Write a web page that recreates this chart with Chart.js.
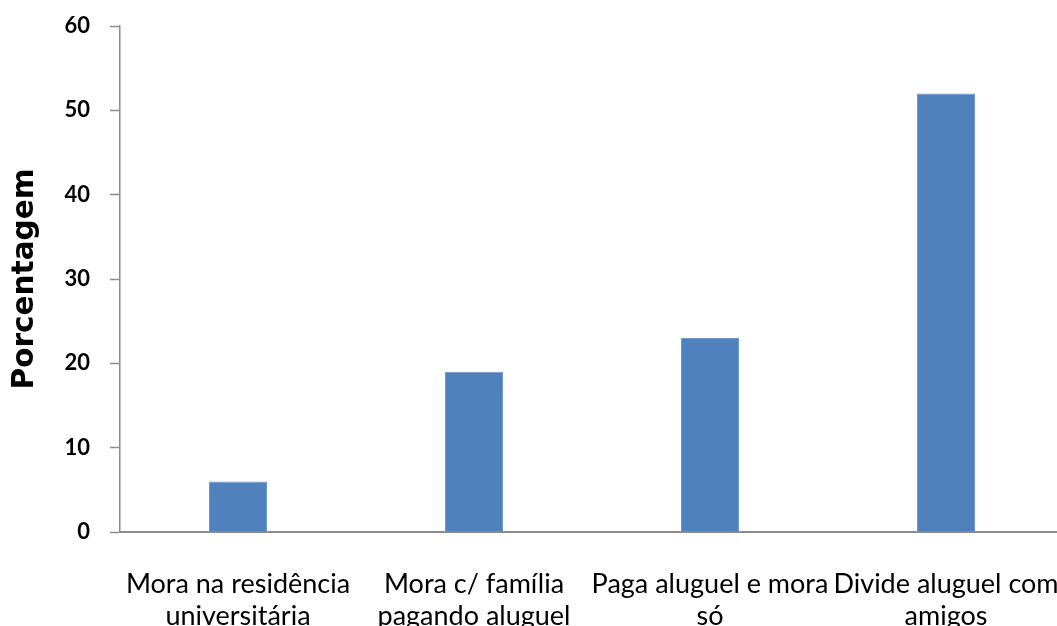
<!DOCTYPE html>
<html>
<head>
<meta charset="utf-8">
<script src="https://cdn.jsdelivr.net/npm/chart.js@4/dist/chart.umd.min.js"></script>
<style>
  html, body { margin: 0; padding: 0; background: #fff; overflow: hidden; }
  #wrap { position: relative; width: 1064px; height: 626px; }
</style>
</head>
<body>
<div id="wrap"><canvas id="chBar"></canvas></div>
<script>
var categories = [
  ['Mora na residência', 'universitária'],
  ['Mora c/ família', 'pagando aluguel'],
  ['Paga aluguel e mora', 'só'],
  ['Divide aluguel com', 'amigos']
];
var percentages = [6, 19, 23, 52];
var yTicks = [0, 10, 20, 30, 40, 50, 60];

var axisGray = '#8c8c8c';

new Chart(document.getElementById('chBar'), {
  type: 'bar',
  data: {
    labels: categories,
    datasets: [{
      data: percentages,
      backgroundColor: '#4f81bd',
      borderColor: '#6f98c9',
      borderWidth: 1,
      categoryPercentage: 1,
      barPercentage: 0.246
    }]
  },
  options: {
    responsive: true,
    maintainAspectRatio: false,
    animation: false,
    layout: { padding: { top: 26, right: 0, left: 0, bottom: 0 } },
    plugins: { legend: { display: false }, tooltip: { enabled: false } },
    scales: {
      x: {
        grid: { display: false, drawTicks: false },
        border: { display: true, color: axisGray, width: 2 },
        ticks: {
          color: '#000',
          font: { family: 'Lato', size: 27, lineHeight: 1.2 },
          padding: 36,
          maxRotation: 0,
          autoSkip: false
        },
        afterFit: function(s) {
          s.height = 94;
          s.paddingLeft = 0;
          s.paddingRight = 0;
        }
      },
      y: {
        min: 0,
        max: 60,
        afterBuildTicks: function(s) { s.ticks = yTicks.map(function(v){ return {value: v}; }); },
        grid: { drawOnChartArea: false, drawTicks: true, tickLength: 10, color: axisGray, tickWidth: 1.5 },
        border: { display: true, color: axisGray, width: 1.5 },
        ticks: {
          color: '#000',
          font: { family: 'Lato', size: 22, weight: 'bold' },
          padding: 20
        },
        title: {
          display: true,
          text: 'Porcentagem',
          color: '#000',
          font: { family: 'DejaVu Sans', size: 29.5, weight: 'bold' },
          padding: { top: 8, bottom: 0 }
        },
        afterFit: function(s) {
          s.width = 120;
          s.paddingTop = 0;
          s.paddingBottom = 0;
        }
      }
    }
  }
});
</script>
</body>
</html>
